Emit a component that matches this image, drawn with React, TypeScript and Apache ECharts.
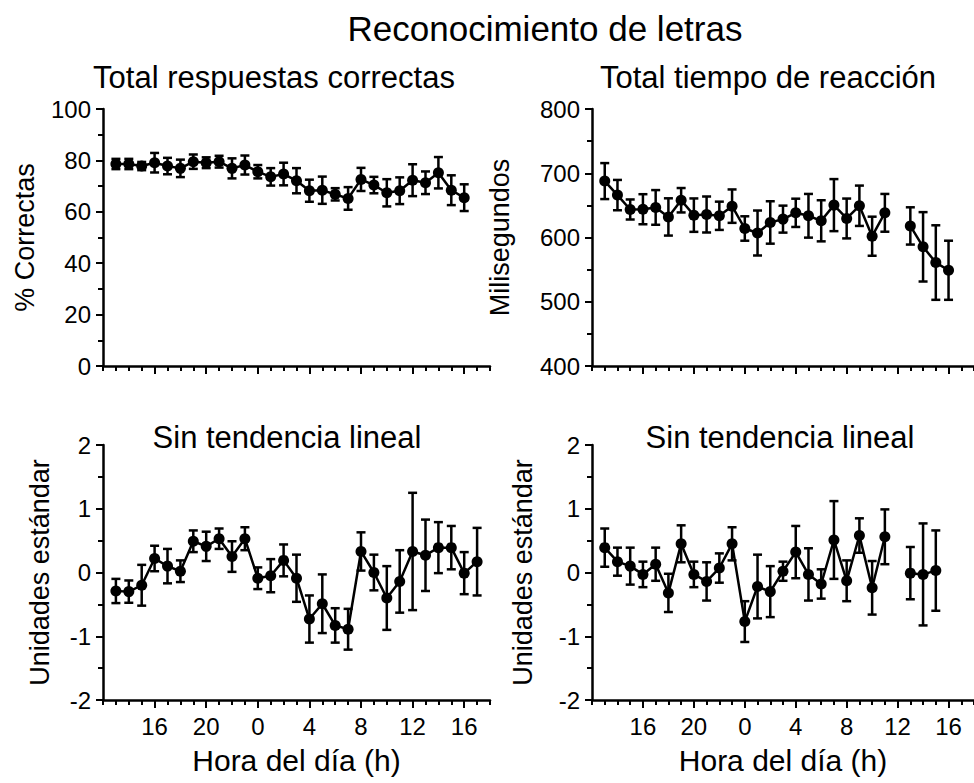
import React, { useEffect, useRef } from "react";
import * as echarts from "echarts";

// Hour of day (continuous, 24 = midnight, 37 = 13 h next day)
const hours = [13, 14, 15, 16, 17, 18, 19, 20, 21, 22, 23, 24, 25, 26, 27, 28, 29, 30, 31, 32, 33, 34, 35, 36, 37, 38, 39, 40, 41];
const labelHours = [16, 20, 24, 28, 32, 36, 40];

// Total correct responses (%), mean and SEM
const correctMean = [78.6, 78.6, 77.8, 79.1, 77.8, 76.9, 79.5, 79.1, 79.5, 76.9, 78.2, 75.6, 73.6, 74.7, 72.1, 68.2, 68.4, 66.8, 65.2, 72.6, 70.4, 67.4, 68.2, 72.3, 71.3, 75.2, 68.4, 65.5];
const correctErr = [2, 2, 1.6, 3.8, 3.2, 3.4, 2.8, 2.1, 2.3, 3.9, 3.7, 2.6, 3.4, 4.4, 4.9, 4.3, 5.3, 2.4, 4.4, 4.5, 3.2, 5.3, 5.2, 6.2, 4.4, 6.1, 5.8, 5.2];

// Total reaction time (ms), mean and SEM (no session at 12 h)
const rtMean = [687.8, 666, 643.6, 644, 646.8, 632, 658, 634.8, 635.8, 633.8, 648.8, 614, 607, 623.4, 628.6, 638.4, 633.8, 626, 650.4, 629.6, 649.4, 602, 638.4, null, 618, 585.5, 561, 549];
const rtErr = [28, 23.6, 15.6, 23.4, 27, 29, 19, 26, 28, 22, 26, 19, 35, 33, 21, 22, 34, 32, 40.5, 31, 31.4, 30.4, 29.4, null, 29, 54, 58, 46];

// Detrended correct responses (standard units)
const detrCorrectMean = [-0.29, -0.3, -0.2, 0.22, 0.1, 0.02, 0.49, 0.41, 0.53, 0.25, 0.53, -0.09, -0.05, 0.19, -0.09, -0.73, -0.49, -0.83, -0.89, 0.33, 0.0, -0.4, -0.14, 0.33, 0.27, 0.39, 0.39, -0.01, 0.17];
const detrCorrectErr = [0.19, 0.175, 0.32, 0.2, 0.27, 0.17, 0.17, 0.23, 0.16, 0.24, 0.18, 0.17, 0.26, 0.25, 0.37, 0.37, 0.46, 0.27, 0.32, 0.3, 0.28, 0.5, 0.49, 0.92, 0.56, 0.4, 0.34, 0.33, 0.53];

// Detrended reaction time (standard units)
const detrRtMean = [0.39, 0.17, 0.1, -0.03, 0.13, -0.32, 0.45, -0.03, -0.14, 0.07, 0.45, -0.77, -0.22, -0.3, 0.02, 0.32, -0.03, -0.18, 0.51, -0.13, 0.58, -0.24, 0.56, null, -0.01, -0.03, 0.03];
const detrRtErr = [0.3, 0.22, 0.29, 0.2, 0.26, 0.3, 0.29, 0.2, 0.3, 0.23, 0.26, 0.32, 0.5, 0.4, 0.15, 0.41, 0.41, 0.23, 0.61, 0.32, 0.27, 0.42, 0.43, null, 0.41, 0.8, 0.63];

const FONT = "'Liberation Sans', Arial, Helvetica, sans-serif";
const BLACK = "#000";

type Panel = {
  grid: { left: number; top: number; width: number; height: number };
  mean: (number | null)[];
  err: (number | null)[];
  yMin: number;
  yMax: number;
  yInterval: number;
  yName: string;
  yNameGap: number;
  xName: boolean;
};

const panels: Panel[] = [
  { grid: { left: 103, top: 109, width: 387, height: 257 }, mean: correctMean, err: correctErr, yMin: 0, yMax: 100, yInterval: 20, yName: "% Correctas", yNameGap: 65, xName: false },
  { grid: { left: 592, top: 109, width: 386, height: 257 }, mean: rtMean, err: rtErr, yMin: 400, yMax: 800, yInterval: 100, yName: "Milisegundos", yNameGap: 79, xName: false },
  { grid: { left: 103, top: 445, width: 387, height: 255 }, mean: detrCorrectMean, err: detrCorrectErr, yMin: -2, yMax: 2, yInterval: 1, yName: "Unidades estándar", yNameGap: 50, xName: true },
  { grid: { left: 592, top: 445, width: 386, height: 255 }, mean: detrRtMean, err: detrRtErr, yMin: -2, yMax: 2, yInterval: 1, yName: "Unidades estándar", yNameGap: 56, xName: true },
];

function errorBarRender(params: any, api: any) {
  const x = api.value(0);
  const top = api.coord([x, api.value(2)]);
  const bot = api.coord([x, api.value(1)]);
  const cap = 4.5;
  const style = { stroke: BLACK, lineWidth: 2.5 };
  return {
    type: "group",
    children: [
      { type: "line", shape: { x1: top[0], y1: top[1], x2: bot[0], y2: bot[1] }, style },
      { type: "line", shape: { x1: top[0] - cap, y1: top[1], x2: top[0] + cap, y2: top[1] }, style },
      { type: "line", shape: { x1: bot[0] - cap, y1: bot[1], x2: bot[0] + cap, y2: bot[1] }, style },
    ],
  };
}

function buildOption() {
  const grid: any[] = [];
  const xAxis: any[] = [];
  const yAxis: any[] = [];
  const series: any[] = [];

  panels.forEach((p, g) => {
    grid.push({ ...p.grid, containLabel: false });

    // hourly ticks, labels every 4 h
    xAxis.push({
      type: "value",
      gridIndex: g,
      position: "bottom",
      min: 12,
      max: 42,
      interval: 1,
      axisLine: { show: true, onZero: false, lineStyle: { color: BLACK, width: 2.5 } },
      axisTick: { show: true, length: 5, lineStyle: { color: BLACK, width: 2 } },
      axisLabel: p.xName
        ? {
            show: true,
            customValues: labelHours,
            formatter: (v: number) => String(v % 24),
            fontSize: 24,
            fontFamily: FONT,
            color: BLACK,
            margin: 14,
          }
        : { show: false },
      splitLine: { show: false },
      name: p.xName ? "Hora del día (h)" : "",
      nameLocation: "middle",
      nameGap: 45,
      nameTextStyle: { fontSize: 30, fontFamily: FONT, color: BLACK },
    });
    // longer ticks at the labelled hours
    xAxis.push({
      type: "value",
      gridIndex: g,
      position: "bottom",
      min: 12,
      max: 42,
      interval: 1,
      axisLine: { show: false, onZero: false },
      axisTick: { show: true, length: 8, customValues: labelHours, lineStyle: { color: BLACK, width: 2 } },
      axisLabel: { show: false },
      splitLine: { show: false },
    });

    yAxis.push({
      type: "value",
      gridIndex: g,
      min: p.yMin,
      max: p.yMax,
      interval: p.yInterval,
      axisLine: { show: true, onZero: false, lineStyle: { color: BLACK, width: 2.5 } },
      axisTick: { show: true, length: 7, lineStyle: { color: BLACK, width: 2 } },
      minorTick: { show: true, splitNumber: 2, length: 5, lineStyle: { color: BLACK, width: 2 } },
      axisLabel: { fontSize: 24, fontFamily: FONT, color: BLACK, margin: 12 },
      splitLine: { show: false },
      minorSplitLine: { show: false },
      name: p.yName,
      nameLocation: "middle",
      nameGap: p.yNameGap,
      nameTextStyle: { fontSize: 27, fontFamily: FONT, color: BLACK },
    });

    const lineData: any[] = [];
    const barData: any[] = [];
    p.mean.forEach((m, i) => {
      const h = hours[i];
      if (m === null) {
        lineData.push([h, "-"]);
        return;
      }
      lineData.push([h, m]);
      const e = p.err[i] as number;
      barData.push([h, m - e, m + e]);
    });

    series.push({
      type: "custom",
      xAxisIndex: 2 * g,
      yAxisIndex: g,
      renderItem: errorBarRender,
      encode: { x: 0, y: [1, 2] },
      data: barData,
      z: 2,
    });
    series.push({
      type: "line",
      xAxisIndex: 2 * g,
      yAxisIndex: g,
      data: lineData,
      connectNulls: false,
      symbol: "circle",
      symbolSize: 11,
      showSymbol: true,
      itemStyle: { color: BLACK },
      lineStyle: { color: BLACK, width: 2.5 },
      z: 3,
    });
  });

  const text = (t: string, x: number, y: number, size: number) => ({
    type: "text",
    x,
    y,
    style: { text: t, fontSize: size, fontFamily: FONT, fill: BLACK, textAlign: "center", textVerticalAlign: "middle" },
  });

  return {
    animation: false,
    backgroundColor: "#fff",
    grid,
    xAxis,
    yAxis,
    series,
    graphic: [
      text("Reconocimiento de letras", 545, 28, 35),
      text("Total respuestas correctas", 274, 77, 31),
      text("Total tiempo de reacción", 768, 77, 31),
      text("Sin tendencia lineal", 287, 437, 31),
      text("Sin tendencia lineal", 780, 437, 31),
    ],
  };
}

export default function App() {
  const ref = useRef<HTMLDivElement>(null);
  useEffect(() => {
    const chart = echarts.init(ref.current as HTMLDivElement, null, { renderer: "svg" });
    chart.setOption(buildOption() as any);
    return () => chart.dispose();
  }, []);
  return <div ref={ref} style={{ position: "absolute", left: 0, top: 0, width: 974, height: 783 }} />;
}
